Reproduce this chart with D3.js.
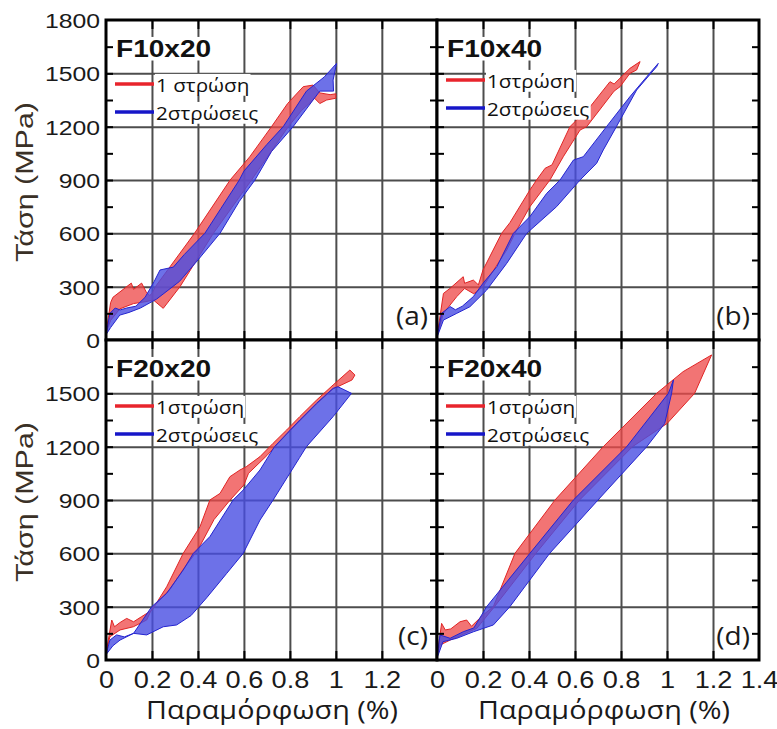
<!DOCTYPE html>
<html>
<head>
<meta charset="utf-8">
<script src="https://cdn.jsdelivr.net/npm/d3@7"></script>
<style>
  body { margin: 0; background: #fff; }
  svg { display: block; }
</style>
</head>
<body>
<svg id="chart" width="777" height="729"></svg>
<script>
// Stress–strain loops, [strain %, stress MPa], traced as closed outlines
const f10x20_1layer = [[0.00,40],[0.02,210],[0.03,240],[0.11,320],[0.12,285],[0.155,320],[0.175,270],[0.19,250],[0.20,262],[0.215,300],[0.385,600],[0.54,900],[0.625,1030],[0.72,1200],[0.79,1330],[0.858,1425],[0.901,1434],[0.93,1390],[0.975,1380],[1.0,1385],[1.0,1360],[0.96,1350],[0.93,1330],[0.908,1359],[0.85,1290],[0.793,1200],[0.633,900],[0.467,600],[0.322,300],[0.249,178],[0.206,225],[0.17,215],[0.12,205],[0.06,175],[0.02,110]];
const f10x20_2layers = [[0.00,30],[0.017,150],[0.04,180],[0.061,169],[0.09,180],[0.13,190],[0.17,240],[0.21,330],[0.235,394],[0.293,410],[0.34,480],[0.43,600],[0.50,740],[0.58,900],[0.60,950],[0.66,1040],[0.70,1100],[0.771,1200],[0.872,1400],[0.95,1480],[1.003,1556],[0.988,1462],[0.99,1400],[0.93,1400],[0.814,1200],[0.72,1060],[0.648,900],[0.58,780],[0.496,600],[0.40,450],[0.32,330],[0.27,280],[0.22,230],[0.15,180],[0.10,155],[0.06,140],[0.02,70]];

const f10x40_1layer = [[0.00,20],[0.028,262],[0.057,291],[0.114,356],[0.12,319],[0.158,337],[0.18,310],[0.20,394],[0.281,600],[0.317,660],[0.404,844],[0.433,900],[0.47,966],[0.50,985],[0.578,1200],[0.607,1237],[0.64,1270],[0.752,1453],[0.77,1440],[0.839,1528],[0.883,1566],[0.868,1519],[0.839,1500],[0.796,1425],[0.77,1400],[0.651,1200],[0.622,1181],[0.549,1031],[0.491,900],[0.404,750],[0.339,600],[0.303,506],[0.20,300],[0.16,260],[0.12,290],[0.086,244],[0.028,150]];
const f10x40_2layers = [[0.00,15],[0.02,150],[0.057,188],[0.08,170],[0.11,190],[0.158,244],[0.20,319],[0.26,412],[0.332,600],[0.404,694],[0.477,825],[0.535,900],[0.593,1012],[0.636,1031],[0.737,1200],[0.839,1369],[0.912,1481],[0.962,1556],[0.955,1537],[0.93,1500],[0.868,1406],[0.78,1200],[0.723,1069],[0.694,994],[0.622,900],[0.52,750],[0.39,600],[0.303,431],[0.216,281],[0.143,187],[0.086,150],[0.028,112]];

const f20x20_1layer = [[0.00,37],[0.025,225],[0.037,187],[0.06,210],[0.09,234],[0.12,215],[0.155,244],[0.20,280],[0.264,412],[0.336,600],[0.409,750],[0.452,900],[0.496,937],[0.539,1031],[0.583,1069],[0.61,1087],[0.67,1144],[0.727,1219],[0.786,1294],[0.843,1369],[0.916,1462],[0.988,1547],[1.061,1631],[1.083,1603],[1.07,1575],[0.988,1525],[0.916,1440],[0.786,1270],[0.70,1150],[0.62,1050],[0.60,985],[0.54,900],[0.47,790],[0.40,620],[0.336,510],[0.28,400],[0.20,290],[0.177,225],[0.119,187],[0.061,169],[0.017,131]];
const f20x20_2layers = [[0.00,30],[0.017,112],[0.046,141],[0.08,130],[0.12,150],[0.199,300],[0.264,375],[0.336,506],[0.38,600],[0.452,694],[0.553,900],[0.597,956],[0.67,1069],[0.733,1200],[0.843,1350],[0.916,1444],[0.988,1528],[1.009,1537],[1.068,1500],[0.988,1369],[0.872,1200],[0.843,1140],[0.727,900],[0.67,787],[0.597,600],[0.525,487],[0.438,350],[0.37,250],[0.307,197],[0.249,187],[0.177,141],[0.12,150],[0.061,112],[0.03,80]];

const f20x40_1layer = [[0.00,19],[0.02,206],[0.036,169],[0.06,175],[0.10,215],[0.129,225],[0.15,190],[0.20,253],[0.245,300],[0.339,600],[0.513,900],[0.723,1200],[0.955,1500],[1.07,1622],[1.194,1716],[1.12,1500],[1.0,1330],[0.85,1200],[0.62,900],[0.43,600],[0.25,300],[0.173,178],[0.057,112],[0.013,84]];
const f20x40_2layers = [[0.00,10],[0.013,141],[0.057,122],[0.114,159],[0.16,180],[0.216,300],[0.404,600],[0.593,900],[0.825,1200],[1.006,1500],[1.028,1575],[1.02,1500],[0.99,1330],[0.912,1200],[0.70,900],[0.49,600],[0.317,300],[0.245,197],[0.159,159],[0.086,122],[0.026,103]];

const specimens = ["F10x20", "F10x40", "F20x20", "F20x40"];
const panelTags = ["(a)", "(b)", "(c)", "(d)"];
const seriesLabels = [["1 στρώση", "2στρώσεις"], ["1στρώση", "2στρώσεις"], ["1στρώση", "2στρώσεις"], ["1στρώση", "2στρώσεις"]];
const stressLabelsTop = [0, 300, 600, 900, 1200, 1500, 1800];
const stressLabelsBottom = [0, 300, 600, 900, 1200, 1500];
const stressGrid = [300, 600, 900, 1200, 1500];
const stressMinor = [150, 300, 450, 600, 750, 900, 1050, 1200, 1350, 1500, 1650];
const strainGrid = [0.2, 0.4, 0.6, 0.8, 1, 1.2];
const strainLabelsLeft = [0, 0.2, 0.4, 0.6, 0.8, 1, 1.2];
const strainLabelsRight = [0, 0.2, 0.4, 0.6, 0.8, 1, 1.2, 1.4];
const yTitle = "Τάση (MPa)";
const xTitle = "Παραμόρφωση (%)";

const loops = [
  [f10x20_1layer, f10x20_2layers],
  [f10x40_1layer, f10x40_2layers],
  [f20x20_1layer, f20x20_2layers],
  [f20x40_1layer, f20x40_2layers]
];

const svg = d3.select("#chart");
const SANS = "'Liberation Sans', Arial, sans-serif";
const GREEK = "'Open Sans', 'Noto Sans', sans-serif";
const SX = 1.18; // horizontal stretch of the lettering

const cols = [{x0: 106, x1: 437, max: 1.44}, {x0: 437, x1: 759, max: 1.4}];
const rows = [{y0: 20, y1: 340}, {y0: 340, y1: 660}];
const legendShift = [0, -4, 2, 2];

function label(g, s, o) {
  const t = g.append("text").text(s)
    .attr("font-family", o.family || SANS)
    .attr("font-size", o.size)
    .attr("font-weight", o.weight || "normal")
    .attr("fill", o.fill || "#111")
    .attr("text-anchor", o.anchor || "start");
  let sx = o.sx || 1;
  if (o.width) sx = o.width / t.node().getComputedTextLength();
  t.attr("transform", `translate(${o.x},${o.y})${o.rotate ? ` rotate(${o.rotate})` : ""} scale(${sx},1)`);
  if (o.backdrop) {
    const bb = t.node().getBBox();
    g.insert("rect", () => t.node())
      .attr("x", o.x + bb.x * sx - 1).attr("y", o.y + bb.y + 2)
      .attr("width", bb.width * sx + 2).attr("height", bb.height - 4)
      .attr("fill", "#fff");
  }
  return t;
}

const outline = (x, y) => d3.line().x(d => x(d[0])).y(d => y(d[1])).curve(d3.curveLinearClosed);

specimens.forEach((name, i) => {
  const c = cols[i % 2], r = rows[Math.floor(i / 2)];
  const x = d3.scaleLinear().domain([0, c.max]).range([c.x0, c.x1]);
  const y = d3.scaleLinear().domain([0, 1800]).range([r.y1, r.y0]);
  const w = c.x1 - c.x0, h = r.y1 - r.y0;
  const g = svg.append("g");

  g.append("rect").attr("x", c.x0).attr("y", r.y0).attr("width", w).attr("height", h).attr("fill", "#fff");

  // grid
  g.append("g").attr("transform", `translate(0,${r.y1})`)
    .call(d3.axisBottom(x).tickValues(strainGrid).tickSize(-h).tickFormat(""))
    .call(a => a.select(".domain").remove())
    .selectAll("line").attr("stroke", "#4d4d4d").attr("stroke-width", 2);
  g.append("g").attr("transform", `translate(${c.x0},0)`)
    .call(d3.axisLeft(y).tickValues(stressGrid).tickSize(-w).tickFormat(""))
    .call(a => a.select(".domain").remove())
    .selectAll("line").attr("stroke", "#4d4d4d").attr("stroke-width", 2);

  // loops
  const clipId = "clip" + i;
  g.append("clipPath").attr("id", clipId)
    .append("rect").attr("x", c.x0).attr("y", r.y0).attr("width", w).attr("height", h);
  const plot = g.append("g").attr("clip-path", `url(#${clipId})`);
  const path = outline(x, y);
  plot.append("path").datum(loops[i][0]).attr("d", path)
    .attr("fill", "rgb(238,72,72)").attr("fill-opacity", 0.76)
    .attr("stroke", "#e02424").attr("stroke-width", 1).attr("stroke-linejoin", "round");
  plot.append("path").datum(loops[i][1]).attr("d", path)
    .attr("fill", "rgb(72,78,226)").attr("fill-opacity", 0.8)
    .attr("stroke", "#2424d0").attr("stroke-width", 1).attr("stroke-linejoin", "round");

  // inward ticks on all sides
  const tickStyle = a => { a.select(".domain").remove(); a.selectAll("line").attr("stroke", "#000").attr("stroke-width", 2); };
  g.append("g").attr("transform", `translate(${c.x0},0)`)
    .call(d3.axisLeft(y).tickValues(stressMinor).tickSize(-7).tickFormat("")).call(tickStyle);
  g.append("g").attr("transform", `translate(${c.x1},0)`)
    .call(d3.axisRight(y).tickValues(stressMinor).tickSize(-7).tickFormat("")).call(tickStyle);
  g.append("g").attr("transform", `translate(0,${r.y1})`)
    .call(d3.axisBottom(x).tickValues(strainGrid).tickSize(-9).tickFormat("")).call(tickStyle);
  g.append("g").attr("transform", `translate(0,${r.y0})`)
    .call(d3.axisTop(x).tickValues(strainGrid).tickSize(-9).tickFormat("")).call(tickStyle);

  g.append("rect").attr("x", c.x0).attr("y", r.y0).attr("width", w).attr("height", h)
    .attr("fill", "none").attr("stroke", "#000").attr("stroke-width", 3);

  // stress labels on the left column
  if (i % 2 === 0) {
    const vals = i === 0 ? stressLabelsTop : stressLabelsBottom;
    g.append("g").attr("transform", `translate(${c.x0},0)`)
      .call(d3.axisLeft(y).tickValues(vals).tickSize(0).tickPadding(0).tickFormat(d3.format("d")))
      .call(a => a.select(".domain").remove())
      .selectAll("text")
      .attr("font-family", SANS).attr("font-size", 21).attr("fill", "#1a1a1a")
      .attr("x", -6 / SX).attr("dy", "0.36em")
      .attr("transform", `scale(${SX},1)`);
    label(svg, yTitle, {x: 33, y: (r.y0 + r.y1) / 2 + 2, size: 24, family: SANS, anchor: "middle",
      rotate: -90, width: 160, fill: "#3a3026"});
  }

  // strain labels on the bottom row
  if (i >= 2) {
    const vals = i === 2 ? strainLabelsLeft : strainLabelsRight;
    g.append("g").attr("transform", `translate(0,${r.y1})`)
      .call(d3.axisBottom(x).tickValues(vals).tickSize(0).tickPadding(0).tickFormat(d => String(d)))
      .call(a => a.select(".domain").remove())
      .selectAll("text")
      .attr("font-family", SANS).attr("font-size", 23).attr("fill", "#1a1a1a")
      .attr("y", 28).attr("dy", 0)
      .attr("transform", `scale(${SX},1)`);
    label(svg, xTitle, {x: i === 2 ? 272 : 604, y: 719, size: 25, family: GREEK, anchor: "middle",
      width: 252, fill: "#1a1a1a"});
  }

  // specimen name and legend
  label(g, name, {x: c.x0 + 10, y: r.y0 + 37, size: 24, weight: "bold", sx: 1.17, fill: "#111", backdrop: true});
  const ly = r.y0 + 64 + legendShift[i];
  const legendColors = ["#e8242c", "#1616c8"];
  [0, 1].forEach(k => {
    const yy = ly + k * 28;
    g.append("line").attr("x1", c.x0 + 9).attr("x2", c.x0 + 48).attr("y1", yy).attr("y2", yy)
      .attr("stroke", legendColors[k]).attr("stroke-width", 3.5);
    label(g, seriesLabels[i][k], {x: c.x0 + 50, y: yy + 8, size: 19, family: GREEK, sx: 1.09,
      fill: "#111", backdrop: true});
  });

  label(g, panelTags[i], {x: c.x1 - 9, y: r.y1 - 15, size: 25, family: GREEK, anchor: "end", sx: 1.12, fill: "#1a1a1a"});
});
</script>
</body>
</html>
